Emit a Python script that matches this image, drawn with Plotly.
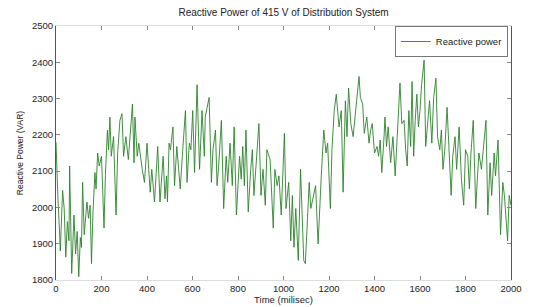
import plotly.graph_objects as go

# Time (ms) and reactive power (VAR)
time_ms = [0, 3, 8, 14, 19, 29, 36, 43, 50, 57, 60, 69, 79, 86, 93, 100, 107, 112, 117, 124,
           136, 143, 150, 156, 162, 171, 176, 183, 190, 200, 211, 217, 226, 231, 237, 243, 253,
           264, 271, 281, 290, 297, 307, 318, 336, 343, 347, 357, 364, 379, 389, 400, 414,
           421, 433, 447, 457, 471, 479, 486, 490, 497, 503, 514, 521, 531, 546, 557, 561,
           569, 576, 586, 593, 601, 609, 620, 631, 642, 652, 656, 673, 683, 690, 701, 708,
           715, 727, 737, 748, 755, 765, 775, 783, 793, 807, 814, 821, 828, 835, 845, 856,
           863, 870, 882, 892, 901, 910, 920, 927, 941, 948, 955, 962, 972, 980, 990, 1004,
           1011, 1023, 1032, 1039, 1046, 1054, 1065, 1075, 1082, 1089, 1096, 1103, 1113,
           1120, 1131, 1141, 1152, 1159, 1166, 1177, 1187, 1194, 1206, 1213, 1223, 1232,
           1244, 1254, 1262, 1272, 1279, 1286, 1296, 1306, 1320, 1332, 1338, 1348, 1355,
           1366, 1376, 1383, 1390, 1400, 1411, 1418, 1425, 1432, 1442, 1446, 1453, 1460,
           1471, 1481, 1491, 1498, 1505, 1512, 1520, 1530, 1537, 1544, 1551, 1559, 1565,
           1572, 1579, 1586, 1593, 1600, 1607, 1618, 1625, 1635, 1642, 1652, 1660, 1670,
           1677, 1687, 1694, 1701, 1709, 1719, 1730, 1737, 1744, 1754, 1761, 1772, 1782,
           1792, 1800, 1810, 1817, 1824, 1834, 1845, 1852, 1859, 1870, 1880, 1890, 1898,
           1908, 1915, 1926, 1932, 1943, 1954, 1964, 1971, 1978, 1985, 1992, 2000]
power_var = [2180, 2110, 2033, 1952, 1880, 2047, 1997, 1863, 1961, 1908, 2114, 1818, 1979, 1872,
             1934, 1809, 1917, 1890, 2069, 1925, 2015, 1970, 2006, 1845, 1979, 2096, 2051,
             2150, 2114, 2141, 1943, 2087, 2213, 2159, 2249, 2141, 2195, 1979, 2150, 2240,
             2258, 2141, 2195, 2132, 2285, 2123, 2249, 2141, 2177, 2105, 2069, 2177, 2042,
             2105, 2015, 2168, 2015, 2141, 2024, 2087, 2015, 2177, 2159, 2222, 2060, 2168,
             2051, 2159, 2204, 2267, 2069, 2177, 2159, 2267, 2096, 2338, 2105, 2267, 2141,
             2249, 2303, 2069, 2159, 2213, 2060, 2114, 2240, 1997, 2141, 2069, 2177, 2060,
             2222, 1979, 2141, 2078, 2168, 2060, 2213, 1988, 2105, 2159, 2033, 2141, 2231,
             2033, 2105, 2006, 2159, 2132, 2015, 1943, 2105, 2060, 2087, 1979, 2204, 1997,
             2069, 1908, 2033, 1890, 1997, 1854, 2105, 1961, 1854, 1845, 1943, 2069, 1997,
             2033, 2060, 1899, 2015, 2087, 2213, 2150, 2177, 1997, 2159, 2267, 2312, 2222,
             2267, 2042, 2294, 2195, 2329, 2231, 2195, 2276, 2361, 2303, 2285, 2204, 2249,
             2177, 2213, 2231, 2150, 2168, 2141, 2186, 2096, 2195, 2249, 2168, 2222, 2123,
             2195, 2087, 2168, 2249, 2343, 2231, 2240, 2159, 2114, 2267, 2168, 2347, 2141,
             2240, 2312, 2222, 2267, 2338, 2406, 2168, 2240, 2294, 2177, 2303, 2356, 2195,
             2159, 2213, 2105, 2159, 2276, 2132, 2033, 2141, 2195, 2105, 2222, 2078, 2006,
             2159, 2141, 2051, 2150, 2240, 1997, 2078, 2150, 2105, 2177, 2240, 1979, 2123,
             2033, 2150, 2087, 2186, 1925, 2069, 2033, 1961, 1908, 2033, 2006]

x_ticks = [0, 200, 400, 600, 800, 1000, 1200, 1400, 1600, 1800, 2000]
y_ticks = [1800, 1900, 2000, 2100, 2200, 2300, 2400, 2500]

FONT = "Liberation Sans, Arial, sans-serif"

fig = go.Figure()
fig.add_trace(go.Scatter(
    x=time_ms, y=power_var, mode="lines", name="Reactive power",
    line=dict(color="rgb(45,130,45)", width=0.9),
))

# page body has an 8px default margin, so margins are shifted to compensate
fig.update_layout(
    width=542, height=307,
    margin=dict(l=48, r=39, t=14, b=31),
    paper_bgcolor="white", plot_bgcolor="white",
    font=dict(family=FONT, size=9, color="#222"),
    title=dict(text="Reactive Power of 415 V of Distribution System",
               x=0.5, xref="paper", y=1 - 4 / 307, yref="container",
               yanchor="middle", font=dict(size=10, color="#222")),
    showlegend=True,
    legend=dict(x=0.993, y=1.0, xanchor="right", yanchor="top",
                bordercolor="#777", borderwidth=1, bgcolor="white",
                font=dict(size=9.5), itemwidth=30,
                tracegroupgap=0),
    xaxis=dict(range=[0, 2000], tickvals=x_ticks, ticks="inside", ticklen=4,
               tickcolor="#888", showgrid=False, zeroline=False,
               showline=True, linecolor="#ddd", linewidth=1, mirror="ticks",
               title=dict(text="Time (milisec)", standoff=2, font=dict(size=9.5)),
               tickfont=dict(size=9.5)),
    yaxis=dict(range=[1800, 2500], tickvals=y_ticks, ticks="inside", ticklen=4,
               tickcolor="#888", showgrid=False, zeroline=False,
               showline=True, linecolor="#555", linewidth=1, mirror="ticks",
               title=dict(text="Reactive Power (VAR)", standoff=6, font=dict(size=8.5)),
               tickfont=dict(size=9.5)),
)

fig.write_html("out.html")
